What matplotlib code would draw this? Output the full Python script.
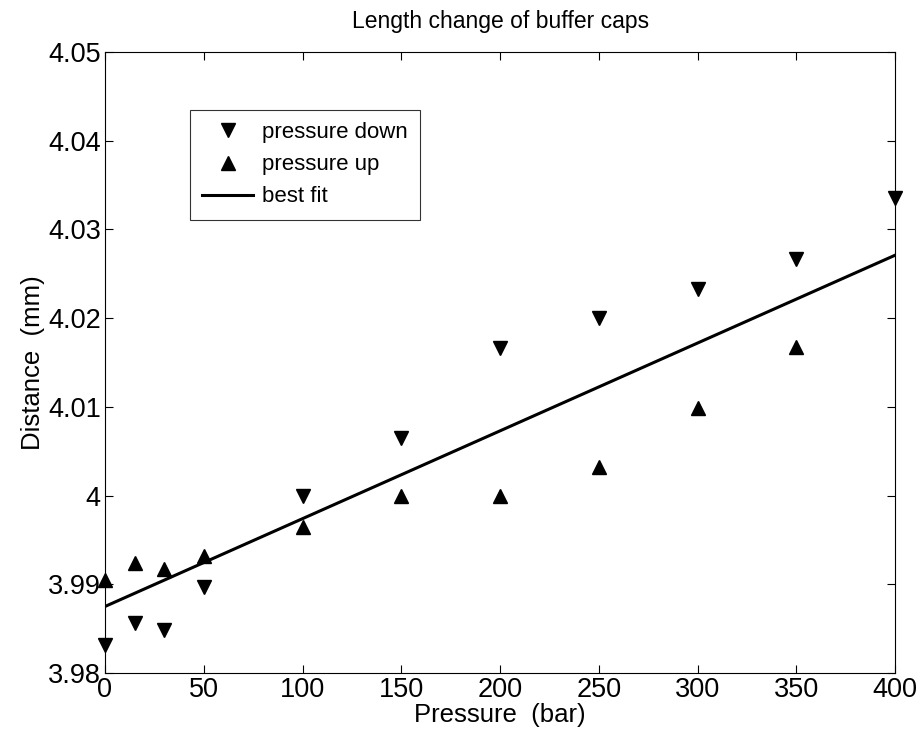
import matplotlib
matplotlib.use("Agg")
import matplotlib.pyplot as plt
from matplotlib.ticker import FuncFormatter

plt.rcParams['font.family'] = ['Liberation Sans', 'DejaVu Sans']

# -------- Data --------
pressure = [0, 15, 30, 50, 100, 150, 200, 250, 300, 350, 400]
dist_down = [3.9832, 3.9856, 3.9848, 3.9897, 4.0000, 4.0065, 4.0166, 4.0200, 4.0233, 4.0267, 4.0335]
pressure_up = [0, 15, 30, 50, 100, 150, 200, 250, 300, 350]
dist_up = [3.9905, 3.9924, 3.9917, 3.9932, 3.9965, 4.0000, 4.0000, 4.0032, 4.0099, 4.0168]
fit_x = [0, 400]
fit_y = [3.9875, 4.0271]

xticks = [0, 50, 100, 150, 200, 250, 300, 350, 400]
yticks = [3.98, 3.99, 4.00, 4.01, 4.02, 4.03, 4.04, 4.05]

# -------- Figure --------
fig = plt.figure(figsize=(9.21, 7.44), dpi=100)
ax = fig.add_axes([0.114, 0.0954, 0.858, 0.8347])

ax.plot(pressure, dist_down, linestyle='none', marker='v', color='black',
        markersize=10, label='pressure down', clip_on=False)
ax.plot(pressure_up, dist_up, linestyle='none', marker='^', color='black',
        markersize=10, label='pressure up', clip_on=False)
ax.plot(fit_x, fit_y, color='black', linewidth=2.2, label='best fit')

ax.set_xlim(0, 400)
ax.set_ylim(3.98, 4.05)
ax.set_xticks(xticks)
ax.set_yticks(yticks)
ax.yaxis.set_major_formatter(FuncFormatter(lambda v, p: f"{v:g}"))
ax.tick_params(direction='in', top=True, right=True, labelsize=19.5, length=6, width=0.8, pad=3)
for s in ax.spines.values():
    s.set_linewidth(0.8)

ax.set_xlabel('Pressure  (bar)', fontsize=18.5, labelpad=0)
ax.set_ylabel('Distance  (mm)', fontsize=18.5, labelpad=2)
ax.set_title('Length change of buffer caps', fontsize=16.5, pad=17)

leg = ax.legend(loc='upper left', bbox_to_anchor=(0.1076, 0.9066), borderaxespad=0,
                fontsize=16, frameon=True, fancybox=False, edgecolor='black',
                handlelength=2.3, handletextpad=0.4, labelspacing=0.5,
                borderpad=0.55)
leg.get_frame().set_linewidth(0.8)

fig.savefig('out.png', dpi=100)
